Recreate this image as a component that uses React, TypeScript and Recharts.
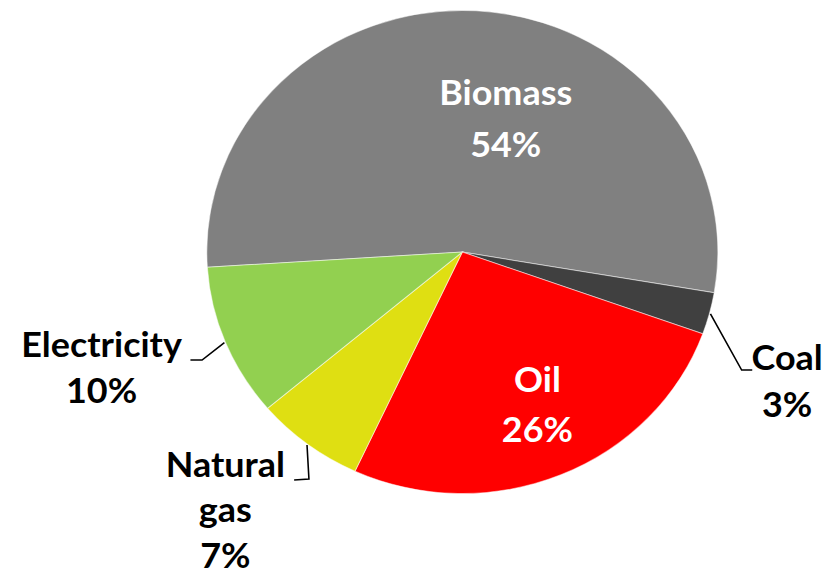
import { PieChart, Pie, Cell } from "recharts";

// energy use by source (%)
const sources = ["Biomass", "Coal", "Oil", "Natural gas", "Electricity"];
const shares = [53.7, 2.8, 26.4, 6.9, 10.2];
const shownPct = ["54%", "3%", "26%", "7%", "10%"];
const labelLines = [["Biomass"], ["Coal"], ["Oil"], ["Natural", "gas"], ["Electricity"]];

const data = sources.map((name, i) => ({ name, value: shares[i] }));

const COLORS = ["#808080", "#404040", "#FF0000", "#DFDF12", "#92D050"];
const TEXT_FILL = ["#fff", "#000", "#fff", "#000", "#000"];

const STRETCH = 1.058;
const W = 790;
const H = 574;
const CX = 437;
const CY = 252;
const R = 241.5;
const FONT = "Lato, 'Noto Sans', sans-serif";

// label layout relative to pie centre: x of text centre, baseline of first line, line step
const labelPos = [
  { x: 41, y: -147, step: 52 },
  { x: 307, y: 118, step: 47 },
  { x: 71, y: 140, step: 50 },
  { x: -224, y: 225, step: 45.5 },
  { x: -341, y: 105, step: 46 },
];

// leader lines: elbow and end, relative to centre (null = no line)
const leaders: (number[][] | null)[] = [
  null,
  [[264, 118], [274, 118]],
  null,
  [[-145, 227], [-159, 228]],
  [[-246, 108], [-257, 108]],
];

const RAD = Math.PI / 180;

const renderLabel = (props: any) => {
  const { index, midAngle, outerRadius } = props;
  const pos = labelPos[index];
  const lines = [...labelLines[index], shownPct[index]];
  const lead = leaders[index];
  let path = null;
  if (lead) {
    const sx = CX + (outerRadius + 1) * Math.cos(-midAngle * RAD);
    const sy = CY + (outerRadius + 1) * Math.sin(-midAngle * RAD);
    const pts = [[sx, sy], ...lead.map(([dx, dy]) => [CX + dx, CY + dy])];
    path = (
      <polyline
        points={pts.map((p) => p.join(",")).join(" ")}
        fill="none"
        stroke="#000"
        strokeWidth={1.5}
      />
    );
  }
  return (
    <g key={`lbl-${index}`}>
      {path}
      {lines.map((t, j) => (
        <text
          key={j}
          x={CX + pos.x}
          y={CY + pos.y + j * pos.step}
          textAnchor="middle"
          fill={TEXT_FILL[index]}
          fontFamily={FONT}
          fontWeight={700}
          fontSize={34}
        >
          {t}
        </text>
      ))}
    </g>
  );
};

export default function App() {
  return (
    <div
      style={{
        position: "absolute",
        left: 0,
        top: 0,
        width: W,
        height: H,
        background: "#fff",
        transform: `scaleX(${STRETCH})`,
        transformOrigin: "0 0",
      }}
    >
      <PieChart width={W} height={H} margin={{ top: 0, right: 0, bottom: 0, left: 0 }}>
        <Pie
          data={data}
          dataKey="value"
          nameKey="name"
          cx={CX}
          cy={CY}
          outerRadius={R}
          startAngle={183.6}
          endAngle={-176.4}
          stroke="#ffffff"
          strokeOpacity={0.5}
          strokeWidth={1}
          label={renderLabel}
          labelLine={false}
          isAnimationActive={false}
        >
          {data.map((d, i) => (
            <Cell key={d.name} fill={COLORS[i]} />
          ))}
        </Pie>
      </PieChart>
    </div>
  );
}
